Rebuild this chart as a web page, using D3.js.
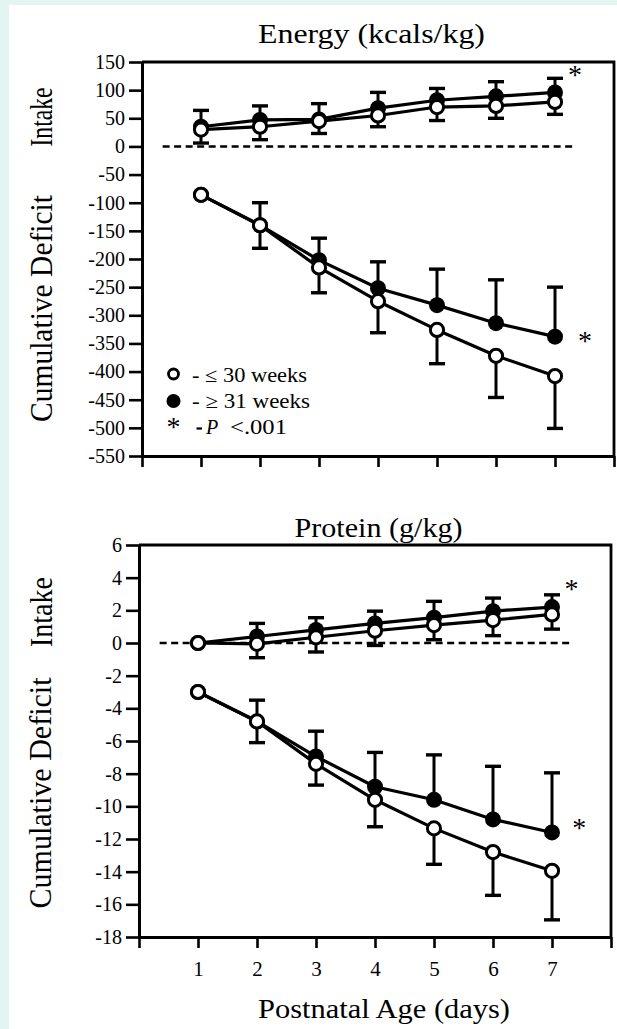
<!DOCTYPE html>
<html>
<head>
<meta charset="utf-8">
<script src="https://cdn.jsdelivr.net/npm/d3@7"></script>
<style>
  html, body { margin: 0; padding: 0; background: #e3f5f1; }
  svg { display: block; }
  text { font-family: "Liberation Serif", "Times New Roman", serif; fill: #000; }
</style>
</head>
<body>
<div id="chart"></div>
<script>
// ---- data ----
const days = [1, 2, 3, 4, 5, 6, 7];
const xTicks = [0, 1, 2, 3, 4, 5, 6, 7, 8];

// Energy (kcals/kg)
const energyIntakeLe30 = [30, 35, 45, 55, 70, 72, 79];
const energyIntakeLe30Sd = [24, 23, 22, 20, 24, 22, 22];
const energyIntakeGe31 = [35, 47, 48, 68, 82, 89, 96];
const energyIntakeGe31Sd = [29, 25, 28, 28, 21, 26, 25];
const energyDeficitLe30 = [-86, -140, -215, -275, -326, -372, -408];
const energyDeficitLe30Sd = [0, 41, 45, 56, 60, 74, 93];
const energyDeficitGe31 = [-86, -140, -202, -252, -282, -314, -338];
const energyDeficitGe31Sd = [0, 40, 39, 47, 64, 77, 88];
const energyTicks = [150, 100, 50, 0, -50, -100, -150, -200, -250, -300, -350, -400, -450, -500, -550];

// Protein (g/kg)
const proteinIntakeLe30 = [0, -0.05, 0.35, 0.75, 1.1, 1.4, 1.75];
const proteinIntakeLe30Sd = [0, 0.85, 0.9, 0.9, 0.9, 0.95, 0.9];
const proteinIntakeGe31 = [0, 0.4, 0.8, 1.2, 1.55, 1.95, 2.2];
const proteinIntakeGe31Sd = [0, 0.8, 0.75, 0.75, 1.0, 0.8, 0.75];
const proteinDeficitLe30 = [-3.0, -4.8, -7.4, -9.6, -11.35, -12.8, -13.95];
const proteinDeficitLe30Sd = [0, 1.3, 1.3, 1.65, 2.2, 2.65, 3.0];
const proteinDeficitGe31 = [-3.0, -4.8, -6.95, -8.8, -9.6, -10.8, -11.6];
const proteinDeficitGe31Sd = [0, 1.3, 1.55, 2.1, 2.75, 3.25, 3.65];
const proteinTicks = [6, 4, 2, 0, -2, -4, -6, -8, -10, -12, -14, -16, -18];

const legendLabels = ["- \u2264 30 weeks", "- \u2265 31 weeks"];

const width = 617;
const height = 1029;

const svg = d3
  .select("#chart")
  .append("svg")
  .attr("width", width)
  .attr("height", height);

// white paper area, mint strip left and top
svg.append("rect")
  .attr("x", 9).attr("y", 5)
  .attr("width", width - 9).attr("height", height - 5)
  .attr("fill", "#fff");

function series(vals, sds) {
  return days.map((d, i) => ({ day: d, v: vals[i], sd: sds[i] }));
}

function drawPanel(p) {
  const x = d3.scaleLinear().domain([0, 8]).range(p.xRange);
  const y = d3.scaleLinear().domain(p.yDomain).range(p.yRange);
  const g = svg.append("g");

  // frame: top and right edges
  g.append("path")
    .attr("d", `M${x(0)},${y(p.yDomain[1])}H${x(8)}V${y(p.yDomain[0])}`)
    .attr("fill", "none").attr("stroke", "#000").attr("stroke-width", 2.8);

  // y axis
  const yAxis = g.append("g")
    .attr("transform", `translate(${x(0)},0)`)
    .call(d3.axisLeft(y).tickValues(p.yTicks).tickFormat((d) => String(d))
      .tickSize(13).tickSizeOuter(0).tickPadding(4));

  // x axis
  const xAxis = g.append("g")
    .attr("transform", `translate(0,${y(p.yDomain[0])})`)
    .call(d3.axisBottom(x).tickValues(xTicks)
      .tickFormat((d) => (p.xLabels && d >= 1 && d <= 7 ? String(d) : ""))
      .tickSize(11).tickSizeOuter(0).tickPadding(13));

  [yAxis, xAxis].forEach((a) => {
    a.select(".domain").attr("stroke-width", 3);
    a.selectAll(".tick line").attr("stroke-width", 2.6);
    a.selectAll("text")
      .style("font-family", '"Liberation Serif", serif')
      .attr("fill", "#000");
  });
  yAxis.selectAll("text").style("font-size", "20px");
  xAxis.selectAll("text").style("font-size", "21px");

  // dashed zero line
  g.append("line")
    .attr("x1", x(0.35)).attr("x2", x(7.3))
    .attr("y1", y(0)).attr("y2", y(0))
    .attr("stroke", "#000").attr("stroke-width", 2.4)
    .attr("stroke-dasharray", "7,4.5");

  const line = d3.line().x((d) => x(d.day)).y((d) => y(d.v));

  p.sections.forEach((s) => {
    const hi = series(s.ge31, s.ge31Sd);
    const lo = series(s.le30, s.le30Sd);

    [hi, lo].forEach((data) => {
      g.append("path").datum(data)
        .attr("d", line)
        .attr("fill", "none").attr("stroke", "#000")
        .attr("stroke-width", 3.2).attr("stroke-linejoin", "round");
    });

    // error bars: closed go up, open go down
    const bars = hi.filter((d) => d.sd > 0).map((d) => ({ ...d, end: d.v + d.sd }))
      .concat(lo.filter((d) => d.sd > 0).map((d) => ({ ...d, end: d.v - d.sd })));

    g.append("g").selectAll("line")
      .data(bars).join("line")
      .attr("x1", (d) => x(d.day)).attr("x2", (d) => x(d.day))
      .attr("y1", (d) => y(d.v)).attr("y2", (d) => y(d.end))
      .attr("stroke", "#000").attr("stroke-width", 3);

    g.append("g").selectAll("line")
      .data(bars).join("line")
      .attr("x1", (d) => x(d.day) - 8).attr("x2", (d) => x(d.day) + 8)
      .attr("y1", (d) => y(d.end)).attr("y2", (d) => y(d.end))
      .attr("stroke", "#000").attr("stroke-width", 3.4);

    g.append("g").selectAll("circle")
      .data(hi).join("circle")
      .attr("cx", (d) => x(d.day)).attr("cy", (d) => y(d.v))
      .attr("r", 8).attr("fill", "#000");

    g.append("g").selectAll("circle")
      .data(lo).join("circle")
      .attr("cx", (d) => x(d.day)).attr("cy", (d) => y(d.v))
      .attr("r", 6.6).attr("fill", "#fff")
      .attr("stroke", "#000").attr("stroke-width", 3);

    // significance asterisk next to the last closed point
    const last = hi[hi.length - 1];
    g.append("text")
      .attr("x", x(last.day + s.star[0]))
      .attr("y", y(last.v) + s.star[1] + 13)
      .attr("text-anchor", "middle")
      .style("font-size", "28px")
      .text("*");
  });

  // title
  g.append("text")
    .attr("x", p.title.x).attr("y", p.title.y)
    .attr("text-anchor", "middle")
    .attr("textLength", p.title.len).attr("lengthAdjust", "spacingAndGlyphs")
    .style("font-size", "27px")
    .text(p.title.text);

  // rotated row labels
  p.rowLabels.forEach((r) => {
    g.append("text")
      .attr("transform", `translate(${r.x},${r.y}) rotate(-90)`)
      .attr("text-anchor", "middle")
      .attr("textLength", r.len).attr("lengthAdjust", "spacingAndGlyphs")
      .style("font-size", "32px")
      .attr("fill", "#1a1a1a")
      .text(r.text);
  });
}

drawPanel({
  xRange: [142, 614],
  yDomain: [-550, 150],
  yRange: [456, 62],
  yTicks: energyTicks,
  xLabels: false,
  sections: [
    { ge31: energyIntakeGe31, ge31Sd: energyIntakeGe31Sd, le30: energyIntakeLe30, le30Sd: energyIntakeLe30Sd, star: [0.34, -21] },
    { ge31: energyDeficitGe31, ge31Sd: energyDeficitGe31Sd, le30: energyDeficitLe30, le30Sd: energyDeficitLe30Sd, star: [0.51, 0] },
  ],
  title: { text: "Energy (kcals/kg)", x: 371.5, y: 43, len: 227 },
  rowLabels: [
    { text: "Intake", x: 52, y: 117, len: 59 },
    { text: "Cumulative Deficit", x: 52, y: 308.5, len: 227 },
  ],
});

drawPanel({
  xRange: [139, 611],
  yDomain: [-18, 6],
  yRange: [937, 545],
  yTicks: proteinTicks,
  xLabels: true,
  sections: [
    { ge31: proteinIntakeGe31, ge31Sd: proteinIntakeGe31Sd, le30: proteinIntakeLe30, le30Sd: proteinIntakeLe30Sd, star: [0.33, -22] },
    { ge31: proteinDeficitGe31, ge31Sd: proteinDeficitGe31Sd, le30: proteinDeficitLe30, le30Sd: proteinDeficitLe30Sd, star: [0.46, -8] },
  ],
  title: { text: "Protein (g/kg)", x: 378.5, y: 537, len: 168 },
  rowLabels: [
    { text: "Intake", x: 52, y: 612, len: 70 },
    { text: "Cumulative Deficit", x: 51, y: 793, len: 231 },
  ],
});

// x axis title
svg.append("text")
  .attr("x", 384).attr("y", 1018)
  .attr("text-anchor", "middle")
  .attr("textLength", 252).attr("lengthAdjust", "spacingAndGlyphs")
  .style("font-size", "27px")
  .text("Postnatal Age (days)");

// legend (energy panel)
const legend = svg.append("g");
legend.append("circle")
  .attr("cx", 173.5).attr("cy", 374).attr("r", 5)
  .attr("fill", "#fff").attr("stroke", "#000").attr("stroke-width", 2.8);
legend.append("circle")
  .attr("cx", 173.5).attr("cy", 401).attr("r", 7)
  .attr("fill", "#000");
legend.append("text")
  .attr("x", 173.5).attr("y", 436).attr("text-anchor", "middle")
  .style("font-size", "28px").text("*");

legend.selectAll("text.lab")
  .data(legendLabels).join("text")
  .attr("class", "lab")
  .attr("x", 192).attr("y", (d, i) => 382 + i * 26)
  .attr("textLength", (d, i) => [115, 118][i]).attr("lengthAdjust", "spacingAndGlyphs")
  .style("font-size", "20px")
  .text((d) => d);

legend.append("line")
  .attr("x1", 196.5).attr("x2", 202).attr("y1", 428.5).attr("y2", 428.5)
  .attr("stroke", "#000").attr("stroke-width", 2.2);
legend.append("text")
  .attr("x", 206).attr("y", 434)
  .style("font-size", "20px").style("font-style", "italic")
  .text("P");
legend.append("text")
  .attr("x", 230).attr("y", 434)
  .attr("textLength", 57).attr("lengthAdjust", "spacingAndGlyphs")
  .style("font-size", "20px")
  .text("<.001");
</script>
</body>
</html>
